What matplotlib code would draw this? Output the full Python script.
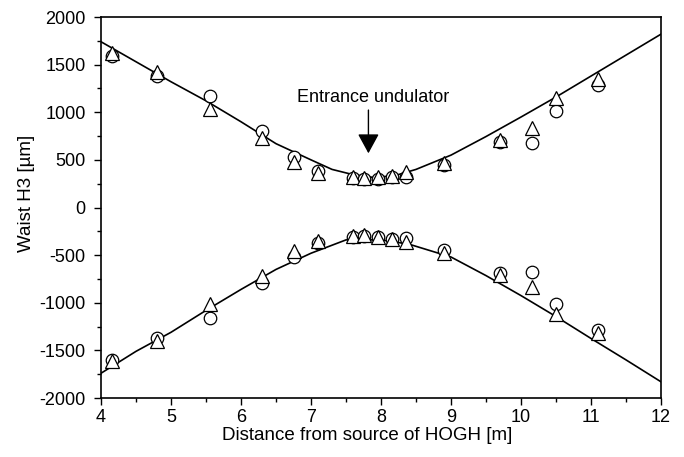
import numpy as np
import matplotlib.pyplot as plt
from matplotlib.ticker import MultipleLocator

plt.rcParams['font.family'] = ['Liberation Sans', 'DejaVu Sans']
plt.rcParams['axes.unicode_minus'] = False

# measured positions [m]
pos = [4.15, 4.8, 5.55, 6.3, 6.75, 7.1, 7.6, 7.75, 7.95, 8.15, 8.35, 8.9, 9.7, 10.15, 10.5, 11.1]

# upper branch
up_circ = [1590, 1380, 1170, 800, 530, 380, 310, 300, 300, 320, 320, 450, 690, 680, 1010, 1290]
up_tri = [1620, 1420, 1030, 730, 480, 360, 320, 310, 320, 330, 370, 470, 710, 830, 1150, 1350]

# lower branch
lo_circ = [-1600, -1370, -1160, -790, -520, -370, -310, -300, -310, -330, -320, -450, -690, -680, -1010, -1290]
lo_tri = [-1610, -1400, -1010, -720, -460, -350, -300, -290, -310, -330, -360, -480, -710, -830, -1120, -1320]

# simulated waist curves
up_line_x = [4.0, 4.5, 5.0, 5.5, 6.0, 6.5, 7.0, 7.3, 7.6, 7.9, 8.2, 8.5, 9.0, 9.5, 10.0, 10.5, 11.0, 11.5, 12.0]
up_line_y = [1740, 1530, 1320, 1120, 900, 670, 500, 400, 345, 315, 335, 400, 550, 745, 950, 1160, 1380, 1600, 1820]
lo_line_x = [4.0, 4.5, 5.0, 5.5, 6.0, 6.5, 7.0, 7.5, 8.0, 8.4, 9.0, 9.5, 10.0, 10.5, 11.0, 11.5, 12.0]
lo_line_y = [-1740, -1510, -1310, -1080, -860, -650, -480, -340, -340, -385, -520, -715, -925, -1145, -1375, -1600, -1830]

fig = plt.figure(figsize=(6.84, 4.57), dpi=100)
ax = fig.add_axes([0.1477, 0.1291, 0.8187, 0.8337])

ax.plot(up_line_x, up_line_y, color='black', lw=1.2)
ax.plot(lo_line_x, lo_line_y, color='black', lw=1.2)

mk = dict(ls='none', mfc='white', mec='black', mew=0.9)
ax.plot(pos, up_circ, marker='o', ms=9, **mk)
ax.plot(pos, up_tri, marker='^', ms=10, **mk)
ax.plot(pos, lo_circ, marker='o', ms=9, **mk)
ax.plot(pos, lo_tri, marker='^', ms=10, **mk)

ax.text(7.89, 1110, 'Entrance undulator', ha='center', va='baseline', fontsize=13)
ax.annotate('', xy=(7.82, 569), xytext=(7.82, 1023),
            arrowprops=dict(arrowstyle='-|>,head_length=0.55,head_width=0.3',
                            color='black', lw=1.0, mutation_scale=22,
                            shrinkA=0, shrinkB=0))

ax.set_xlim(4, 12)
ax.set_ylim(-2000, 2000)
ax.xaxis.set_major_locator(MultipleLocator(1))
ax.xaxis.set_minor_locator(MultipleLocator(0.5))
ax.yaxis.set_major_locator(MultipleLocator(500))
ax.yaxis.set_minor_locator(MultipleLocator(250))
ax.tick_params(which='major', length=5, width=1, labelsize=13)
ax.tick_params(axis='x', which='major', pad=3)
ax.tick_params(axis='y', which='major', pad=6)
ax.tick_params(which='minor', length=3, width=1)
for s in ax.spines.values():
    s.set_linewidth(1.2)

ax.set_xlabel('Distance from source of HOGH [m]', fontsize=13.5)
ax.set_ylabel('Waist H3 [\u00b5m]', fontsize=13.5)
ax.xaxis.set_label_coords(0.475, -0.077)
ax.yaxis.set_label_coords(-0.118, 0.538)

fig.savefig('out.png', dpi=100)
